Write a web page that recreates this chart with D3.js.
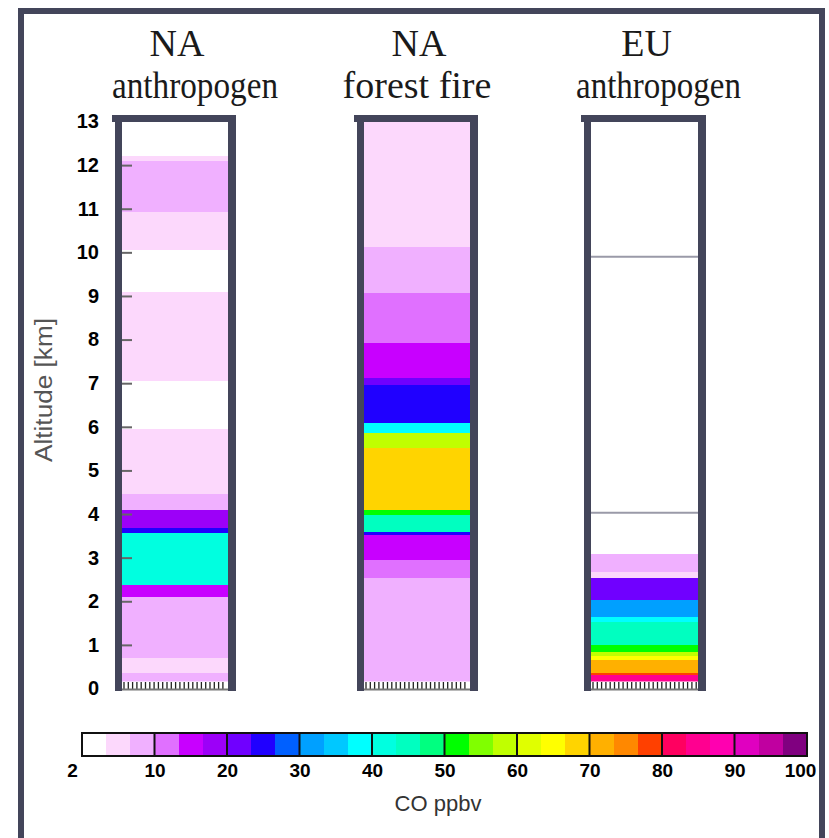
<!DOCTYPE html>
<html>
<head>
<meta charset="utf-8">
<script src="https://cdn.jsdelivr.net/npm/d3@7"></script>
<style>
  body { margin: 0; background: #fff; }
  svg { display: block; }
</style>
</head>
<body>
<svg id="chart" width="829" height="838"></svg>
<script>
// ---- data ----------------------------------------------------------------
// Column titles, two lines each
const columnTitles = [["NA", "anthropogen"], ["NA", "forest fire"], ["EU", "anthropogen"]];

// CO layers per source region: [bottom km, top km, CO ppbv]
const naAnthropogen = [
  [0.00, 0.36, 9], [0.36, 0.70, 6], [0.70, 2.10, 9], [2.10, 2.37, 15],
  [2.37, 3.57, 42], [3.57, 3.68, 25], [3.68, 4.10, 18], [4.10, 4.45, 9],
  [4.45, 5.95, 6], [5.95, 7.05, 3], [7.05, 9.10, 6], [9.10, 10.05, 3],
  [10.05, 10.93, 6], [10.93, 12.10, 9], [12.10, 12.22, 6], [12.22, 13.00, 3]
];
const naForestFire = [
  [0.00, 2.53, 9], [2.53, 2.95, 12], [2.95, 3.52, 15], [3.52, 3.59, 25],
  [3.59, 3.98, 45], [3.98, 4.09, 52], [4.09, 5.52, 68], [5.52, 5.86, 58],
  [5.86, 6.09, 38], [6.09, 6.96, 25], [6.96, 7.12, 22], [7.12, 7.93, 15],
  [7.93, 9.07, 12], [9.07, 10.13, 9], [10.13, 13.00, 6]
];
const euAnthropogen = [
  [0.00, 0.31, 85], [0.31, 0.36, 78], [0.36, 0.66, 72], [0.66, 0.75, 65],
  [0.75, 0.84, 58], [0.84, 1.00, 52], [1.00, 1.53, 45], [1.53, 1.64, 38],
  [1.64, 2.03, 32], [2.03, 2.54, 22], [2.54, 2.67, 6], [2.67, 3.08, 9],
  [3.08, 13.00, 3]
];
// contour lines crossing the EU column (km)
const euContours = [4.03, 9.9];

// Axis ticks
const altitudeTicks = [0, 1, 2, 3, 4, 5, 6, 7, 8, 9, 10, 11, 12, 13];
const coTicks = [2, 10, 20, 30, 40, 50, 60, 70, 80, 90, 100];

// Colour table: three shades per interval of coTicks
const coColors = [
  "#ffffff", "#fcd8fc", "#f0b0ff",
  "#e070ff", "#c800ff", "#9c00f8",
  "#7000ff", "#2000ff", "#0060ff",
  "#00a0ff", "#00c8ff", "#00ffff",
  "#00ffe0", "#00ffc0", "#00ff80",
  "#00ff00", "#80ff00", "#c0ff00",
  "#e0ff00", "#ffff00", "#ffd400",
  "#ffb000", "#ff8800", "#ff4000",
  "#ff0060", "#ff0090", "#ff00b0",
  "#e000c0", "#c000a0", "#800080"
];

// ---- scales --------------------------------------------------------------
const svg = d3.select("#chart");
const frameColor = "#43455a";

const y = d3.scaleLinear().domain([0, 13]).range([688.5, 121.5]);

// lower bounds of each colour cell
const cellBounds = [];
for (let i = 0; i < coTicks.length - 1; i++) {
  const a = coTicks[i], b = coTicks[i + 1];
  for (let k = 0; k < 3; k++) cellBounds.push(a + (b - a) * k / 3);
}
const color = d3.scaleThreshold().domain(cellBounds.slice(1)).range(coColors);

// ---- outer frame ---------------------------------------------------------
svg.append("rect")
  .attr("x", 21).attr("y", 11).attr("width", 801).attr("height", 840)
  .attr("fill", "none").attr("stroke", frameColor).attr("stroke-width", 6);

// ---- columns -------------------------------------------------------------
const columns = [
  { data: naAnthropogen, x0: 122, x1: 228, titleShift: 20, titleWidth: 166 },
  { data: naForestFire, x0: 364, x1: 470, titleShift: 0, titleWidth: null },
  { data: euAnthropogen, x0: 591, x1: 698, titleShift: 14, titleWidth: 165 }
];

columns.forEach((col, ci) => {
  const g = svg.append("g");
  const w = col.x1 - col.x0;

  g.selectAll("rect.band").data(col.data).join("rect")
    .attr("class", "band")
    .attr("x", col.x0).attr("width", w)
    .attr("y", d => y(d[1]))
    .attr("height", d => y(d[0]) - y(d[1]))
    .attr("fill", d => color(d[2]))
    .attr("shape-rendering", "crispEdges");

  if (ci === 2) {
    g.selectAll("line.contour").data(euContours).join("line")
      .attr("x1", col.x0).attr("x2", col.x1)
      .attr("y1", d => y(d)).attr("y2", d => y(d))
      .attr("stroke", "#9a9aa8").attr("stroke-width", 2);
  }

  // bottom rug strip
  g.append("rect").attr("x", col.x0).attr("width", w)
    .attr("y", 681.5).attr("height", 7.5).attr("fill", "#fff");
  g.selectAll("line.rug").data(d3.range(2, w - 1, 4.3)).join("line")
    .attr("x1", d => col.x0 + d).attr("x2", d => col.x0 + d)
    .attr("y1", 682).attr("y2", 689)
    .attr("stroke", "#222").attr("stroke-width", 1.3);
  g.append("line").attr("x1", col.x0).attr("x2", col.x1)
    .attr("y1", 689.5).attr("y2", 689.5)
    .attr("stroke", "#777").attr("stroke-width", 2);

  // inner altitude ticks on the first column
  if (ci === 0) {
    const inner = g.append("g").attr("transform", `translate(${col.x0},0)`)
      .call(d3.axisRight(y).tickValues(altitudeTicks.slice(1, -1)).tickSize(10).tickFormat(""));
    inner.select(".domain").remove();
    inner.selectAll("line").attr("stroke", "#666").attr("stroke-width", 2);
  }

  // column frame
  g.append("rect").attr("x", col.x0 - 7).attr("y", 115).attr("width", 7).attr("height", 576).attr("fill", frameColor);
  g.append("rect").attr("x", col.x1).attr("y", 115).attr("width", 8).attr("height", 576).attr("fill", frameColor);
  g.append("rect").attr("x", col.x0 - 10).attr("y", 115).attr("width", w + 18).attr("height", 7).attr("fill", frameColor);

  // titles
  const cx = (col.x0 + col.x1) / 2;
  const t = columnTitles[ci];
  const title = svg.append("g")
    .attr("font-family", "'Liberation Serif', 'Times New Roman', serif")
    .attr("font-size", 38).attr("fill", "#1a1a1a").attr("text-anchor", "middle");
  title.append("text").attr("x", cx + 2).attr("y", 56).text(t[0]);
  const l2 = title.append("text").attr("x", cx + col.titleShift).attr("y", 98).text(t[1]);
  if (col.titleWidth) l2.attr("textLength", col.titleWidth).attr("lengthAdjust", "spacingAndGlyphs");
});

// ---- altitude axis -------------------------------------------------------
const yAxis = svg.append("g").attr("transform", "translate(103,0)")
  .call(d3.axisLeft(y).tickValues(altitudeTicks).tickSize(0).tickPadding(4).tickFormat(d3.format("d")));
yAxis.select(".domain").remove();
yAxis.selectAll("text")
  .attr("font-family", "'Liberation Sans', Arial, sans-serif")
  .attr("font-size", 20).attr("font-weight", "bold").attr("fill", "#000");

svg.append("text")
  .attr("transform", "translate(52,390) rotate(-90)")
  .attr("text-anchor", "middle")
  .attr("font-family", "'Liberation Sans', Arial, sans-serif")
  .attr("font-size", 23).attr("fill", "#555")
  .attr("textLength", 144).attr("lengthAdjust", "spacingAndGlyphs")
  .text("Altitude [km]");

// ---- colour bar ----------------------------------------------------------
const barX0 = 82, barX1 = 807, barY = 733, barH = 23;
const xCell = d3.scaleLinear().domain([0, coColors.length]).range([barX0, barX1]);
const bar = svg.append("g");
bar.selectAll("rect.cell").data(coColors).join("rect")
  .attr("x", (d, i) => xCell(i)).attr("width", (d, i) => xCell(i + 1) - xCell(i))
  .attr("y", barY).attr("height", barH).attr("fill", d => d)
  .attr("shape-rendering", "crispEdges");
bar.selectAll("line.sep").data(d3.range(3, coColors.length, 3)).join("line")
  .attr("x1", d => xCell(d)).attr("x2", d => xCell(d))
  .attr("y1", barY).attr("y2", barY + barH)
  .attr("stroke", "#111").attr("stroke-width", 2);
bar.append("rect").attr("x", barX0).attr("y", barY).attr("width", barX1 - barX0).attr("height", barH)
  .attr("fill", "none").attr("stroke", "#111").attr("stroke-width", 2);

const xTick = d3.scalePoint().domain(coTicks).range([barX0, barX1]);
const cAxis = svg.append("g").attr("transform", `translate(0,${barY + barH})`)
  .call(d3.axisBottom(xTick).tickSize(0).tickPadding(8));
cAxis.select(".domain").remove();
cAxis.selectAll("text")
  .attr("font-family", "'Liberation Sans', Arial, sans-serif")
  .attr("font-size", 19).attr("font-weight", "bold").attr("fill", "#000")
  // end labels sit slightly inside the bar ends
  .attr("dx", d => d === coTicks[0] ? -10 : d === coTicks[coTicks.length - 1] ? -7 : 0);

svg.append("text")
  .attr("x", 438).attr("y", 811).attr("text-anchor", "middle")
  .attr("font-family", "'Liberation Sans', Arial, sans-serif")
  .attr("font-size", 22).attr("fill", "#333")
  .text("CO ppbv");
</script>
</body>
</html>
